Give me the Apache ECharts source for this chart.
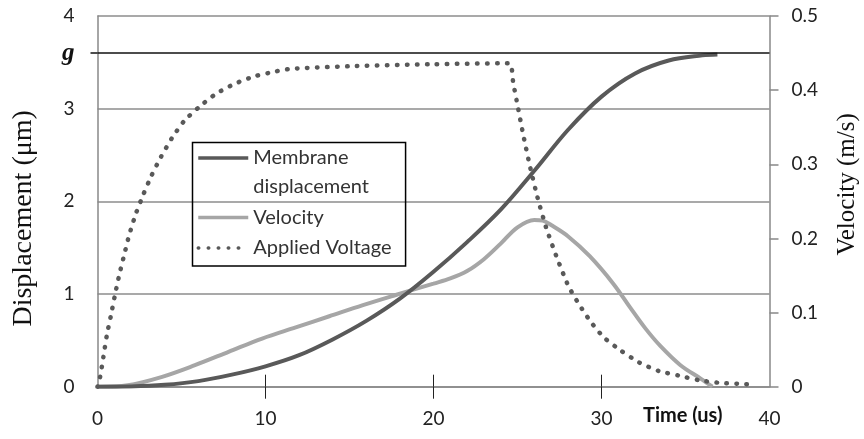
<!DOCTYPE html>
<html>
<head>
<meta charset="utf-8">
<script src="https://cdn.jsdelivr.net/npm/echarts@6/dist/echarts.min.js"></script>
<style>
  html, body { margin: 0; padding: 0; background: #fff; }
  #chart { width: 864px; height: 439px; }
</style>
</head>
<body>
<div id="chart"></div>
<script>
// membrane displacement (um), left axis
const dispTime = [0, 2, 4, 6, 8, 10, 12, 14, 16, 18, 20, 22, 24, 26, 28, 30, 32, 34, 36, 36.9]
const dispVals = [0, 0.003, 0.02, 0.06, 0.13, 0.22, 0.34, 0.51, 0.71, 0.95, 1.24, 1.56, 1.91, 2.33, 2.77, 3.13, 3.38, 3.52, 3.575, 3.585]

// velocity (m/s), right axis
const velTime = [0, 1.8, 3.8, 5.8, 7.8, 9.8, 11.8, 13.8, 15.8, 17.8, 20, 21, 22, 23, 24, 25, 26, 26.5, 27, 28, 29.3, 30.7, 31.7, 32.6, 33.5, 34.7, 35.9, 36.6]
const velVals = [0, 0.002, 0.013, 0.029, 0.047, 0.065, 0.08, 0.095, 0.11, 0.124, 0.139, 0.146, 0.156, 0.172, 0.193, 0.215, 0.225, 0.224, 0.218, 0.203, 0.176, 0.139, 0.107, 0.079, 0.055, 0.029, 0.011, 0]

// applied voltage, drawn in left axis units
const voltTime = [0, 0.15, 0.35, 0.55, 0.8, 1.04, 1.3, 1.6, 1.89, 2.29, 2.72, 3.22, 3.78, 4.42, 5.17, 6.06, 7.05, 8.18, 9.37, 10.56, 11.5, 15.4, 20, 24.5, 24.75, 25, 25.35, 25.74, 26.18, 26.7, 27.33, 28.02, 28.66, 29.36, 30.15, 31.15, 32.25, 33.4, 34.6, 35.8, 37.1, 38.3, 39.2]
const voltVals = [0, 0.1, 0.32, 0.55, 0.77, 0.99, 1.21, 1.43, 1.64, 1.87, 2.07, 2.28, 2.48, 2.68, 2.87, 3.02, 3.16, 3.27, 3.35, 3.40, 3.43, 3.46, 3.48, 3.49, 3.27, 3.04, 2.71, 2.38, 2.05, 1.72, 1.40, 1.09, 0.89, 0.70, 0.53, 0.39, 0.26, 0.17, 0.12, 0.07, 0.04, 0.03, 0.02]

const gapLevel = 3.6
const leftTicks = [0, 1, 2, 3, gapLevel, 4]
const timeTicks = [10, 20, 30]

const pairs = (xs, ys) => xs.map((x, i) => [x, ys[i]])

const chartinit = echarts.init(document.getElementById('chart'))
const tickFont = { fontFamily: 'Lato', fontSize: 19, color: '#222' }

const option = {
  animation: false,
  title: {
    text: 'Time (us)',
    left: 643,
    top: 406,
    padding: 0,
    textStyle: { fontFamily: 'Lato', fontSize: 20, fontWeight: 'bold', color: '#111' }
  },
  grid: { left: 97.5, right: 94.5, top: 16, bottom: 52.3, outerBoundsMode: 'none' },
  legend: {
    left: 192.5,
    top: 142.5,
    orient: 'vertical',
    // the first entry carries an empty top line so its icon sits on "Membrane"
    padding: [-28, 14, 3.5, 4],
    itemGap: 1.5,
    itemWidth: 50,
    itemHeight: 14,
    borderColor: '#000',
    borderWidth: 1.5,
    lineStyle: { width: 3.5 },
    itemStyle: { opacity: 0 },
    textStyle: { fontFamily: 'Lato', fontSize: 20, color: '#333', lineHeight: 29 },
    formatter: name => name === 'Membrane displacement' ? '\nMembrane\ndisplacement' : name,
    data: ['Membrane displacement', 'Velocity', 'Applied Voltage']
  },
  xAxis: [
    {
      type: 'value',
      min: 0,
      max: 40,
      interval: 10,
      axisLine: { onZero: false, lineStyle: { color: '#888', width: 1.5 } },
      axisTick: { customValues: timeTicks, length: 12, lineStyle: { color: '#222', width: 1 } },
      axisLabel: { margin: 23, ...tickFont },
      splitLine: { show: false }
    },
    {
      // inner half of the crossing ticks
      type: 'value',
      position: 'bottom',
      min: 0,
      max: 40,
      interval: 10,
      axisLine: { show: false, onZero: false },
      axisTick: { inside: true, customValues: timeTicks, length: 12, lineStyle: { color: '#222', width: 1 } },
      axisLabel: { show: false },
      splitLine: { show: false }
    }
  ],
  yAxis: [
    {
      type: 'value',
      min: 0,
      max: 4,
      interval: 1,
      name: 'Displacement (μm)',
      nameLocation: 'middle',
      nameGap: 60,
      nameTextStyle: { fontFamily: 'Liberation Serif', fontSize: 28, color: '#111', padding: [0, 34, 0, 0] },
      axisLine: { show: true, onZero: false, lineStyle: { color: '#888', width: 1.5 } },
      axisTick: { show: false },
      axisLabel: {
        margin: 23,
        customValues: leftTicks,
        ...tickFont,
        formatter: v => v === gapLevel ? '{g|g}' : String(v),
        rich: {
          g: { fontFamily: 'Liberation Serif', fontStyle: 'italic', fontWeight: 'bold', fontSize: 25, color: '#111' }
        }
      },
      splitLine: { show: true, lineStyle: { color: '#8c8c8c', width: 1.5 } }
    },
    {
      type: 'value',
      position: 'right',
      min: 0,
      max: 0.5,
      interval: 0.1,
      name: 'Velocity (m/s)',
      nameLocation: 'middle',
      nameGap: 65,
      nameTextStyle: { fontFamily: 'Liberation Serif', fontSize: 25, color: '#111', padding: [0, 0, 0, 34] },
      axisLine: { show: true, onZero: false, lineStyle: { color: '#888', width: 1.5 } },
      axisTick: { show: true, length: 9, lineStyle: { color: '#888', width: 1.5 } },
      axisLabel: { margin: 22, ...tickFont },
      splitLine: { show: false }
    },
    {
      // short stub of the g line outside the left axis
      type: 'value',
      position: 'left',
      min: 0,
      max: 4,
      axisLine: { show: false, onZero: false },
      axisTick: { show: true, customValues: [gapLevel], length: 7, lineStyle: { color: '#111', width: 1.5 } },
      axisLabel: { show: false },
      splitLine: { show: false }
    }
  ],
  series: [
    {
      name: 'Velocity',
      type: 'line',
      yAxisIndex: 1,
      data: pairs(velTime, velVals),
      symbol: 'none',
      smooth: 0.35,
      lineStyle: { color: '#a6a6a6', width: 4 },
      itemStyle: { color: '#a6a6a6' }
    },
    {
      name: 'Membrane displacement',
      type: 'line',
      yAxisIndex: 0,
      data: pairs(dispTime, dispVals),
      symbol: 'none',
      smooth: 0.35,
      lineStyle: { color: '#595959', width: 4 },
      itemStyle: { color: '#595959' },
      markLine: {
        silent: true,
        symbol: 'none',
        label: { show: false },
        lineStyle: { color: '#111', width: 1.5, type: 'solid' },
        data: [{ yAxis: gapLevel }]
      }
    },
    {
      name: 'Applied Voltage',
      type: 'line',
      yAxisIndex: 0,
      data: pairs(voltTime, voltVals),
      symbol: 'none',
      smooth: 0.2,
      lineStyle: { color: '#595959', width: 4.5, type: [0.5, 9.5], cap: 'round' },
      itemStyle: { color: '#595959' }
    }
  ]
}
chartinit.setOption(option)
</script>
</body>
</html>
